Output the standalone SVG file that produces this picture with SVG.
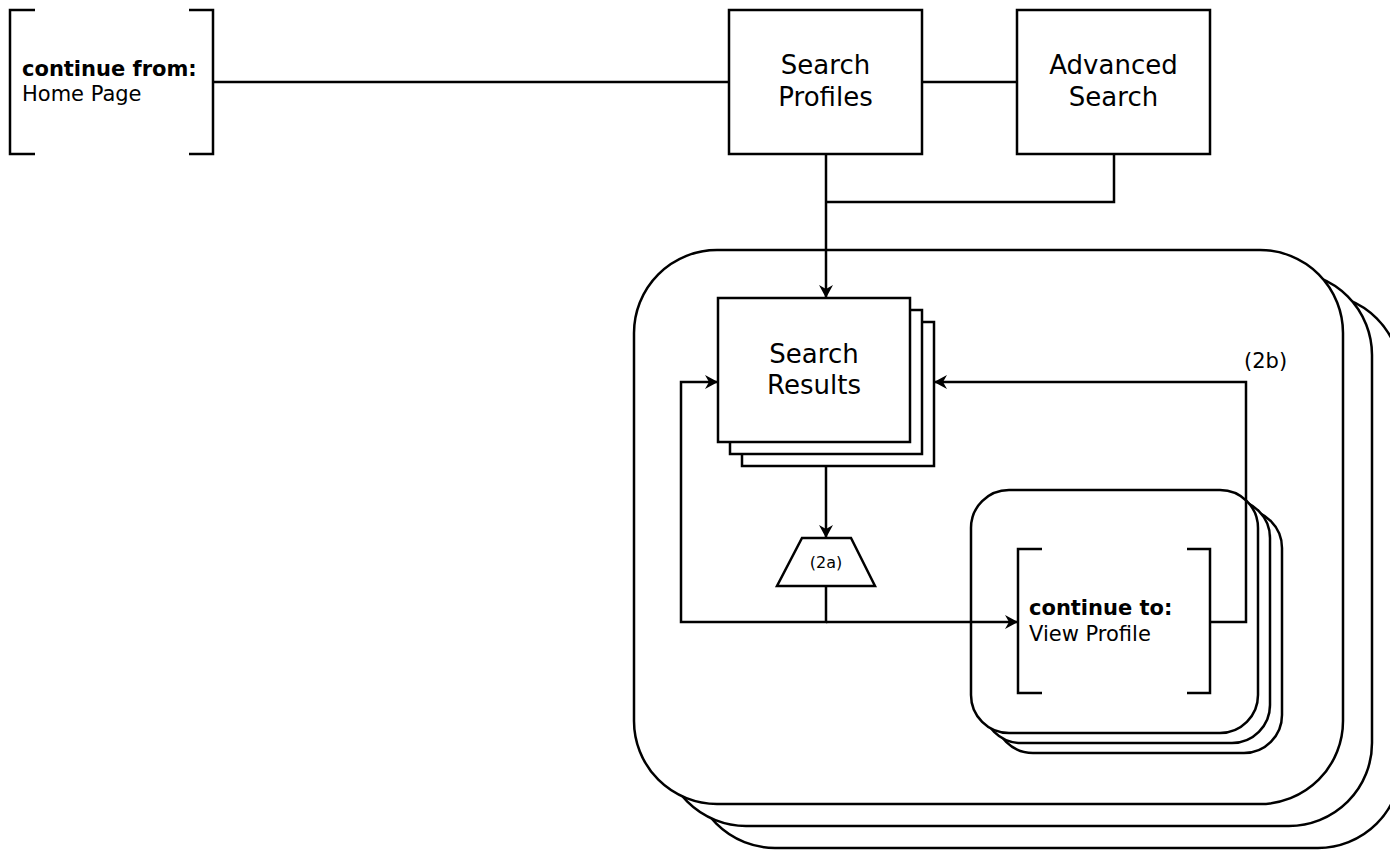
<svg xmlns="http://www.w3.org/2000/svg" width="1390" height="850" viewBox="0 0 1390 850">
<defs>
<style>
.s{fill:#fff;stroke:#000;stroke-width:2.5}
.n{fill:none;stroke:#000;stroke-width:2.5}
.t{font-family:"DejaVu Sans",Verdana,sans-serif;fill:#000}
.big{font-size:26px}
.md{font-size:21px}
.b{font-weight:bold}
</style>
<marker id="arr" markerWidth="14" markerHeight="14" refX="13" refY="7" orient="auto" markerUnits="userSpaceOnUse">
<path d="M0,0 L13,7 L0,14 L4,7 z" fill="#000"/>
</marker>
</defs>
<rect width="1390" height="850" fill="#fff"/>

<g id="container">
<rect class="s" x="692" y="294" width="709" height="554" rx="83" ry="83"/>
<rect class="s" x="663" y="272" width="709" height="554" rx="83" ry="83"/>
<rect class="s" x="634" y="250" width="709" height="554" rx="83" ry="83"/>
</g>

<g id="home-page">
<path class="n" d="M35,10 H10 V154 H35 M189,10 H213 V154 H189"/>
<text class="t md b" x="22" y="76">continue from:</text>
<text class="t md" x="22" y="101">Home Page</text>
</g>

<g id="search-profiles">
<rect class="s" x="729" y="10" width="193" height="144"/>
<text class="t big" x="825.5" y="74" text-anchor="middle">Search</text>
<text class="t big" x="825.5" y="106" text-anchor="middle">Profiles</text>
</g>

<g id="advanced-search">
<rect class="s" x="1017" y="10" width="193" height="144"/>
<text class="t big" x="1113.5" y="74" text-anchor="middle">Advanced</text>
<text class="t big" x="1113.5" y="106" text-anchor="middle">Search</text>
</g>

<g id="search-results">
<rect class="s" x="742" y="322" width="192" height="144"/>
<rect class="s" x="730" y="310" width="192" height="144"/>
<rect class="s" x="718" y="298" width="192" height="144"/>
<text class="t big" x="814" y="363" text-anchor="middle">Search</text>
<text class="t big" x="814" y="394" text-anchor="middle">Results</text>
</g>

<g id="filter-2a">
<path class="s" d="M802,538 H851 L875,586 H777 Z"/>
<text class="t" x="826" y="568" text-anchor="middle" font-size="16">(2a)</text>
</g>

<g id="view-profile">
<rect class="s" x="995" y="510" width="287" height="243" rx="38" ry="38"/>
<rect class="s" x="983" y="500" width="287" height="243" rx="38" ry="38"/>
<rect class="s" x="971" y="490" width="287" height="243" rx="38" ry="38"/>
<path class="n" d="M1042,549 H1018 V693 H1042 M1187,549 H1210 V693 H1187"/>
<text class="t md b" x="1029" y="615">continue to:</text>
<text class="t md" x="1029" y="641">View Profile</text>
</g>

<g id="label-2b">
<text class="t md" x="1244" y="368">(2b)</text>
</g>

<g id="connectors">
<path class="n" d="M213,82 H729"/>
<path class="n" d="M922,82 H1017"/>
<path class="n" d="M1114,154 V202 H826"/>
<path class="n" d="M826,154 V298" marker-end="url(#arr)"/>
<path class="n" d="M826,466 V538" marker-end="url(#arr)"/>
<path class="n" d="M826,586 V622 H681 V382 H718" marker-end="url(#arr)"/>
<path class="n" d="M826,622 H1018" marker-end="url(#arr)"/>
<path class="n" d="M1210,622 H1246 V382 H934" marker-end="url(#arr)"/>
</g>
</svg>
